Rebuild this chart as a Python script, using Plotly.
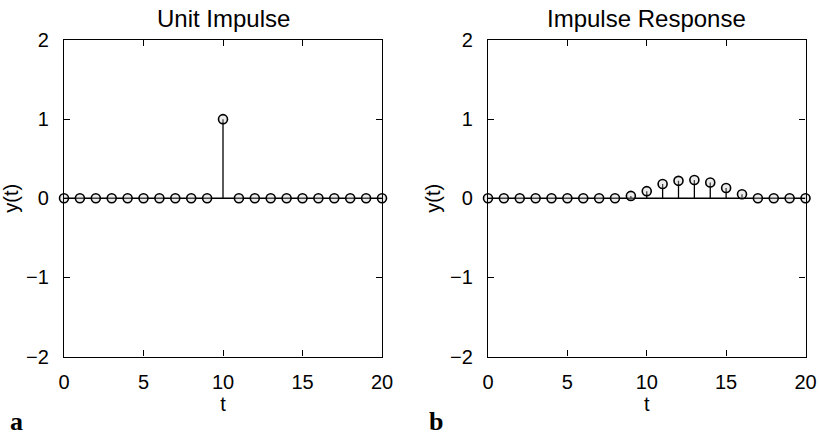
import plotly.graph_objects as go

t = list(range(21))
unit_impulse = [0, 0, 0, 0, 0, 0, 0, 0, 0, 0, 1, 0, 0, 0, 0, 0, 0, 0, 0, 0, 0]
impulse_response = [0, 0, 0, 0, 0, 0, 0, 0, 0, 0.03, 0.09, 0.18, 0.22, 0.23, 0.20, 0.13, 0.05, 0, 0, 0, 0]
titles = ["Unit Impulse", "Impulse Response"]
panel_letters = ["a", "b"]
x_ticks = [0, 5, 10, 15, 20]
y_ticks = [-2, -1, 0, 1, 2]
y_tick_text = ["\u22122", "\u22121", "0", "1", "2"]

W, H = 819, 438
FONT = "Liberation Sans, Arial, Helvetica, sans-serif"

fig = go.Figure()

x_domains = [[64 / W, 382 / W], [488 / W, 805.5 / W]]
y_domain = [(H - 356.5) / H, (H - 40) / H]

for i, series in enumerate([unit_impulse, impulse_response]):
    xa = "x" if i == 0 else "x2"
    ya = "y" if i == 0 else "y2"
    # baseline
    fig.add_trace(go.Scatter(x=[t[0], t[-1]], y=[0, 0], mode="lines",
                             line=dict(color="black", width=1.3),
                             xaxis=xa, yaxis=ya, showlegend=False, hoverinfo="skip"))
    # stems
    sx, sy = [], []
    for tt, v in zip(t, series):
        sx += [tt, tt, None]
        sy += [0, v, None]
    fig.add_trace(go.Scatter(x=sx, y=sy, mode="lines",
                             line=dict(color="black", width=1.3),
                             xaxis=xa, yaxis=ya, showlegend=False, hoverinfo="skip"))
    # markers
    fig.add_trace(go.Scatter(x=t, y=series, mode="markers",
                             marker=dict(symbol="circle", size=9,
                                         color="rgba(200,200,200,0.35)",
                                         line=dict(color="black", width=1.6)),
                             cliponaxis=False,
                             xaxis=xa, yaxis=ya, showlegend=False))

axis_common = dict(showline=True, linecolor="black", linewidth=1.3, mirror="ticks",
                   ticks="inside", ticklen=6, tickwidth=1.3, tickcolor="black",
                   showgrid=False, zeroline=False, automargin=False,
                   tickfont=dict(family=FONT, size=20, color="black"))

for i in range(2):
    sfx = "" if i == 0 else "2"
    fig.update_layout(**{
        f"xaxis{sfx}": dict(axis_common, domain=x_domains[i], range=[0, 20],
                            tickvals=x_ticks, ticklabelstandoff=7,
                            anchor=f"y{sfx}",
                            title=dict(text="t", font=dict(family=FONT, size=20, color="black"),
                                       standoff=4)),
        f"yaxis{sfx}": dict(axis_common, domain=y_domain, range=[-2, 2],
                            tickvals=y_ticks, ticktext=y_tick_text, ticklabelstandoff=10,
                            anchor=f"x{sfx}",
                            title=dict(text="y(t)", font=dict(family=FONT, size=20, color="black"),
                                       standoff=4)),
    })
    cx = (x_domains[i][0] + x_domains[i][1]) / 2
    fig.add_annotation(text=titles[i], x=cx, y=(H - 18) / H, xref="paper", yref="paper",
                       showarrow=False, xanchor="center", yanchor="middle",
                       font=dict(family=FONT, size=24, color="black"))
    fig.add_annotation(text="<b>" + panel_letters[i] + "</b>",
                       x=(16 if i == 0 else 436) / W, y=0,
                       xref="paper", yref="paper", showarrow=False,
                       xanchor="center", yanchor="bottom",
                       font=dict(family="Liberation Serif, Times New Roman, serif", size=26, color="black"))

fig.update_layout(width=W, height=H, margin=dict(l=0, r=0, t=0, b=0, pad=0),
                  paper_bgcolor="white", plot_bgcolor="white",
                  font=dict(family=FONT, color="black"))

fig.write_html("out.html", config={"displayModeBar": False},
               post_script="document.body.style.margin='0';document.body.style.overflow='hidden';")
